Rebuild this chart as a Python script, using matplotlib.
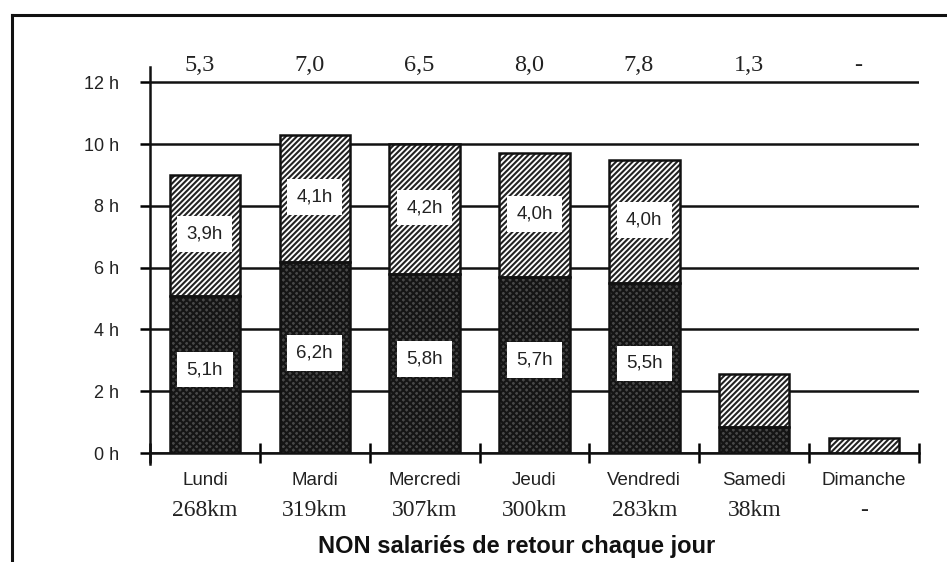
import matplotlib
matplotlib.use("Agg")
import matplotlib.pyplot as plt
from matplotlib.lines import Line2D

days = ["Lundi", "Mardi", "Mercredi", "Jeudi", "Vendredi", "Samedi", "Dimanche"]
km_labels = ["268km", "319km", "307km", "300km", "283km", "38km", "-"]
top_values = ["5,3", "7,0", "6,5", "8,0", "7,8", "1,3", "-"]
dark_hours = [5.1, 6.2, 5.8, 5.7, 5.5, 0.85, 0.0]
hatch_hours = [3.9, 4.1, 4.2, 4.0, 4.0, 1.7, 0.5]
dark_labels = ["5,1h", "6,2h", "5,8h", "5,7h", "5,5h", None, None]
hatch_labels = ["3,9h", "4,1h", "4,2h", "4,0h", "4,0h", None, None]
yticks = [0, 2, 4, 6, 8, 10, 12]
ytick_labels = ["0 h", "2 h", "4 h", "6 h", "8 h", "10 h", "12 h"]

plt.rcParams["hatch.linewidth"] = 1.5
sans = "Liberation Sans"
serif = "Liberation Serif"

fig = plt.figure(figsize=(9.47, 5.62), dpi=100)
ax = fig.add_axes([150/947, 109/562, 769/947, 386/562])

x = list(range(len(days)))
w = 0.64
# dark segment
ax.bar(x, dark_hours, width=w, color="#484848", edgecolor="#151515",
       hatch="xxxxx", linewidth=0, zorder=3)
ax.bar(x, dark_hours, width=w, fill=False, edgecolor="#111111",
       linewidth=1.8, zorder=4)
# hatched segment
ax.bar(x, hatch_hours, width=w, bottom=dark_hours, color="white",
       edgecolor="#222222", hatch="//////", linewidth=0, zorder=3)
ax.bar(x, hatch_hours, width=w, bottom=dark_hours, fill=False,
       edgecolor="#111111", linewidth=1.8, zorder=4)

box = dict(boxstyle="square,pad=0.5", facecolor="white", edgecolor="none")
for i in x:
    if dark_labels[i]:
        ax.text(i, dark_hours[i] / 2 + 0.15, dark_labels[i], ha="center",
                va="center", fontsize=13.5, family=sans, color="#222",
                bbox=box, zorder=5)
    if hatch_labels[i]:
        ax.text(i, dark_hours[i] + hatch_hours[i] / 2 + 0.05, hatch_labels[i],
                ha="center", va="center", fontsize=13.5, family=sans,
                color="#222", bbox=box, zorder=5)
    ax.text(i - 0.05, 12.56, top_values[i], ha="center", va="center",
            fontsize=17.5, family=serif, color="#222", clip_on=False)
    ax.text(i, -0.9, days[i], ha="center", va="center", fontsize=13.5,
            family=sans, color="#222", clip_on=False)
    ax.text(i, -1.87, km_labels[i], ha="center", va="center", fontsize=17,
            family=serif, color="#222", clip_on=False)

ax.set_xlim(-0.5, 6.5)
ax.set_ylim(0, 12.5)
ax.set_yticks(yticks)
ax.set_yticklabels(ytick_labels, family=sans, fontsize=13, color="#222")
ax.set_xticks([i - 0.5 for i in range(len(days) + 1)])
ax.set_xticklabels([])
ax.tick_params(axis="y", direction="out", length=7.5, width=1.8, pad=15)
ax.tick_params(axis="x", direction="inout", length=14, width=1.8)
ax.yaxis.grid(True, color="#111111", linewidth=1.8, zorder=1)
ax.set_axisbelow(True)
for s in ["top", "right"]:
    ax.spines[s].set_visible(False)
for s in ["left", "bottom"]:
    ax.spines[s].set_linewidth(1.8)
    ax.spines[s].set_color("#111111")
ax.spines["left"].set_bounds(-0.35, 12.5)

fig.text(517/947, 15/562, "NON salariés de retour chaque jour", ha="center",
         va="center", fontsize=17, fontweight="bold", family=sans, color="#111")

# frame
fig.add_artist(Line2D([12/947, 12/947], [0, 1 - 15/562], color="#111",
                      linewidth=2.2, transform=fig.transFigure))
fig.add_artist(Line2D([12/947, 1], [1 - 15/562, 1 - 15/562], color="#111",
                      linewidth=2.2, transform=fig.transFigure))

fig.savefig("out.png", dpi=100)
